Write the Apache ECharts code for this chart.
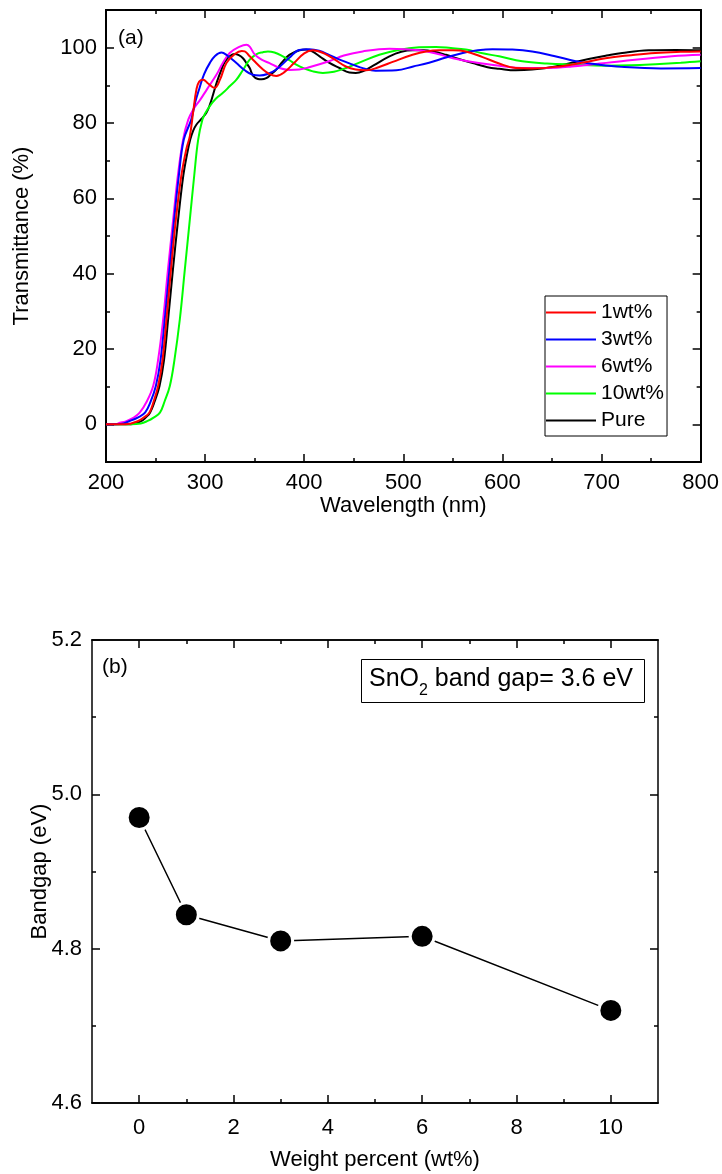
<!DOCTYPE html>
<html><head><meta charset="utf-8">
<script src="https://cdn.jsdelivr.net/npm/echarts@6/dist/echarts.min.js"></script>
<style>html,body{margin:0;padding:0;background:#fff}#c{width:722px;height:1174px}</style>
</head><body><div id="c"></div>
<script>
// ---------- Data (a): transmittance vs wavelength ----------
const seriesNames = ['1wt%', '3wt%', '6wt%', '10wt%', 'Pure'];
const wt1 = [[200,0],[220,0],[232.5,0.9],[238,1.8],[243.7,3.1],[248,6],[252.6,10.2],[257,17],[261,27.9],[265.5,41],[270.5,54.4],[276,66],[281,73],[284.6,76.5],[288,83],[291.3,89],[294,91],[298,91.5],[303,90.5],[309.7,89.3],[315,91.5],[321.5,95.9],[330,98.3],[337,99.1],[340,99],[344,98],[348.3,96.8],[358.4,94.2],[365,93],[371.8,92.5],[380,93.5],[390,96],[400,98.5],[408.7,99.3],[420,98.5],[431,96.8],[442,95],[452,94.2],[462.5,94],[475,94.8],[490,96.3],[509.3,98.1],[523,99],[536.3,99.3],[550,99.3],[563,99],[580,97.5],[596.7,95.8],[613.5,94.6],[630,94.5],[653.7,94.9],[680,96],[704,97.2],[730,98],[754.4,98.6],[780,98.9],[800,99]];
const wt3 = [[200,0],[215,0.1],[224,0.9],[232,1.8],[239.4,3.1],[245,6],[250.3,10.2],[255,17],[259.3,27.9],[264,41],[268.8,54.4],[273.5,66],[278.5,75.6],[286,80.9],[290,85.5],[294.6,89.5],[299,93],[304.7,95.9],[310,97.8],[316.5,98.7],[322,98],[331.6,95.9],[340,94],[348,92.8],[355,92.6],[363,93],[371.8,94.2],[385,97.3],[395,99.4],[405,99.6],[415,99.2],[425,98.1],[437,96.7],[449,95.5],[460,94.5],[472,93.9],[493,94],[510,95],[526,96],[543,97.4],[560,98.6],[575,99.3],[590,99.6],[610,99.5],[630,99],[652,97.8],[674,96.4],[697,95.5],[720,94.9],[760,94.5],[800,94.6]];
const wt6 = [[200,0],[210,0.1],[214,0.4],[220,0.8],[228,1.8],[234,3.1],[241,6],[247.6,10.2],[252.5,17],[257.7,27.9],[262.5,41],[267.8,54.4],[272.5,66],[277.8,75.6],[283,80.9],[289,84],[294.6,86],[302,89],[311.4,92.8],[318,96],[324.8,98.6],[335,100.3],[341.7,100.8],[345,100.3],[350,98.2],[357,96.8],[365,95.9],[375,94.6],[385,94.1],[395,94.2],[405,94.8],[425,96.4],[440,97.9],[459,99],[486,99.7],[516,99.3],[535,98.3],[550,97.2],[576,95.9],[597,95.2],[620,94.6],[645,94.6],[670,95],[720,96.4],[771,97.7],[800,98.1]];
const wt10 = [[200,0],[225,0],[235,0.2],[242,0.9],[248,1.8],[254.4,3.1],[259,6],[264.4,10.2],[269,17],[274.5,27.9],[279.5,41],[284.6,54.4],[289,66],[293,75.6],[297.3,80.9],[300,82.5],[304.7,84.5],[311,86.5],[318,88],[325,89.8],[331.6,91.5],[338,94],[345,96.8],[352,98.3],[358.4,98.8],[363.4,99],[370,98.7],[378.5,97.7],[385,96.7],[392,95.5],[400,94.5],[408.7,93.7],[418.8,93.3],[430,93.6],[442.3,94.6],[458,96.3],[475.8,98.1],[495,99.4],[516,100.1],[533,100.2],[548,99.9],[563,99.5],[580,98.5],[596.7,97.7],[620,96.4],[645,95.8],[670.5,95.5],[704,95.2],[730,95.3],[754.4,95.6],[780,96],[800,96.4]];
const pure = [[200,0],[225,0],[236,0.9],[240,1.8],[244.4,3.1],[249,6],[254,10.2],[258.5,17],[262.7,27.9],[267.5,41],[272.8,54.4],[278,66],[282,72],[285,75.6],[288,78],[291.3,79.6],[296,81],[301.3,82.7],[305,85],[308,87.5],[312,91],[316.5,94.2],[320,96.3],[324.8,97.7],[329.9,98.3],[334,98],[338.2,97.2],[342,95.8],[345,94.6],[348.3,92.6],[353.3,91.7],[357,91.6],[361.7,91.9],[366,92.8],[371.8,94.2],[378,96.2],[385,98.1],[395.3,99.3],[402,99.5],[408,99],[415.5,97.7],[425,96],[435.6,94.6],[445.6,93.4],[452,93.3],[459,93.7],[470,95.3],[486,97.7],[498,98.9],[509.4,99.3],[520,99.3],[530,99],[543,98.1],[556,97],[570,95.9],[585,94.8],[596.7,94.4],[613.5,94],[630,94.2],[653.7,95],[670,96],[687,97],[705,97.9],[720.8,98.6],[747.6,99.3],[775,99.4],[800,99.3]];
const seriesColors = ['#ff0000', '#0000ff', '#ff00ff', '#00ff00', '#000000'];
const xTicksA = [200, 300, 400, 500, 600, 700, 800];
const yTicksA = [0, 20, 40, 60, 80, 100];
const yMinorA = [10, 30, 50, 70, 90];

// ---------- Data (b): band gap vs weight percent ----------
const weightPercent = [0, 1, 3, 6, 10];
const bandgap = [4.970, 4.844, 4.810, 4.816, 4.720];
const xTicksB = [0, 2, 4, 6, 8, 10];
const xMinorB = [1, 3, 5, 7, 9];
const yTicksB = [4.6, 4.8, 5.0, 5.2];

const FONT = 'Liberation Sans, Arial, sans-serif';
const chart = echarts.init(document.getElementById('c'), null, {renderer: 'canvas'});

function axisBase(extra) {
  return Object.assign({
    type: 'value',
    axisLine: {show: true, onZero: false, lineStyle: {color: '#000', width: 2}},
    splitLine: {show: false},
    axisLabel: {show: false},
    axisTick: {show: true, inside: true, length: 8, lineStyle: {color: '#000', width: 1.5}},
    nameMoveOverlap: false
  }, extra);
}
const lbl = {show: true, fontSize: 22, color: '#000', fontFamily: FONT, margin: 10};
const nm = {fontSize: 22, color: '#000', fontFamily: FONT};
const thin = {show: true, onZero: false, lineStyle: {color: '#000', width: 1.5}};
const tk = (vals, len) => ({show: true, inside: true, length: len, customValues: vals, lineStyle: {color: '#000', width: 1.5}});

const xAxis = [
  // (a)
  axisBase({gridIndex: 0, position: 'bottom', min: 200, max: 800, interval: 100,
    axisLabel: Object.assign({}, lbl, {customValues: xTicksA}),
    minorTick: {show: true, splitNumber: 2, length: 4, lineStyle: {color: '#000', width: 1.5}},
    name: 'Wavelength (nm)', nameLocation: 'middle', nameGap: 33, nameTextStyle: nm}),
  axisBase({gridIndex: 0, position: 'top', min: 200, max: 800, interval: 100,
    minorTick: {show: true, splitNumber: 2, length: 4, lineStyle: {color: '#000', width: 1.5}}}),
  // (b)
  axisBase({gridIndex: 1, position: 'bottom', min: -1, max: 11, axisLine: thin,
    axisTick: tk(xTicksB, 8),
    axisLabel: Object.assign({}, lbl, {customValues: xTicksB, margin: 14}),
    name: 'Weight percent (wt%)', nameLocation: 'middle', nameGap: 46, nameTextStyle: nm}),
  axisBase({gridIndex: 1, position: 'top', min: -1, max: 11, axisLine: thin, axisTick: tk(xTicksB, 8)}),
  axisBase({gridIndex: 1, position: 'bottom', min: -1, max: 11, axisLine: thin, axisTick: tk(xMinorB, 4)}),
  axisBase({gridIndex: 1, position: 'top', min: -1, max: 11, axisLine: thin, axisTick: tk(xMinorB, 4)}),
];

const yAxis = [
  // (a)
  axisBase({gridIndex: 0, position: 'left', min: -10, max: 110,
    axisTick: tk(yTicksA, 8),
    axisLabel: Object.assign({}, lbl, {customValues: yTicksA, margin: 9}),
    name: 'Transmittance (%)', nameLocation: 'middle', nameGap: 73, nameTextStyle: nm}),
  axisBase({gridIndex: 0, position: 'right', min: -10, max: 110, axisTick: tk(yTicksA, 8)}),
  axisBase({gridIndex: 0, position: 'left', min: -10, max: 110, axisTick: tk(yMinorA, 4)}),
  axisBase({gridIndex: 0, position: 'right', min: -10, max: 110, axisTick: tk(yMinorA, 4)}),
  // (b)
  axisBase({gridIndex: 1, position: 'left', min: 4.6, max: 5.2, interval: 0.2, axisLine: thin,
    axisLabel: Object.assign({}, lbl, {formatter: v => v.toFixed(1)}),
    minorTick: {show: true, splitNumber: 2, length: 4, lineStyle: {color: '#000', width: 1.5}},
    name: 'Bandgap (eV)', nameLocation: 'middle', nameGap: 41, nameTextStyle: nm}),
  axisBase({gridIndex: 1, position: 'right', min: 4.6, max: 5.2, interval: 0.2, axisLine: thin,
    minorTick: {show: true, splitNumber: 2, length: 4, lineStyle: {color: '#000', width: 1.5}}}),
];

const curveData = [wt1, wt3, wt6, wt10, pure];
const series = curveData.map((d, i) => ({
  name: seriesNames[i], type: 'line', xAxisIndex: 0, yAxisIndex: 0,
  data: d, showSymbol: false, symbol: 'none', smooth: 0.4,
  lineStyle: {color: seriesColors[i], width: 2}, itemStyle: {color: seriesColors[i]},
  z: 10 - i, animation: false
}));
series.push({
  name: 'Bandgap', type: 'line', xAxisIndex: 2, yAxisIndex: 4,
  data: weightPercent.map((w, i) => [w, bandgap[i]]),
  symbol: 'circle', symbolSize: 24,
  itemStyle: {color: '#000', borderColor: '#fff', borderWidth: 3},
  lineStyle: {color: '#000', width: 1.5}, animation: false, z: 5
});

chart.setOption({
  animation: false,
  backgroundColor: '#fff',
  textStyle: {fontFamily: FONT},
  grid: [
    {left: 106, right: 20, top: 10, height: 452},
    {left: 92, right: 64, top: 640, height: 463}
  ],
  xAxis: xAxis,
  yAxis: yAxis,
  legend: {
    data: seriesNames.map(n => ({name: n, icon: 'rect'})), orient: 'vertical', left: 545, top: 296,
    itemWidth: 50, itemHeight: 2, itemGap: 6,
    padding: [6, 3, 5, 1],
    borderColor: '#000', borderWidth: 1, backgroundColor: '#fff',
    textStyle: {fontSize: 21, lineHeight: 21, color: '#000', fontFamily: FONT},
    selectedMode: false
  },
  graphic: [
    {type: 'text', x: 118, y: 38, z: 100, style: {text: '(a)', font: '21px ' + FONT, fill: '#000', verticalAlign: 'middle'}},
    {type: 'text', x: 102, y: 667, z: 100, style: {text: '(b)', font: '21px ' + FONT, fill: '#000', verticalAlign: 'middle'}},
    {type: 'rect', z: 100, shape: {x: 361.5, y: 659.5, width: 283, height: 43}, style: {fill: '#fff', stroke: '#000', lineWidth: 1}},
    {type: 'text', x: 369, y: 679, z: 101, style: {
      text: 'SnO{sub|2} band gap= 3.6 eV', font: '25px ' + FONT, fill: '#000', verticalAlign: 'middle', lineHeight: 40,
      rich: {sub: {fontSize: 16, fontFamily: FONT, lineHeight: 16, verticalAlign: 'bottom', fill: '#000'}}
    }}
  ],
  series: series
});
</script></body></html>
